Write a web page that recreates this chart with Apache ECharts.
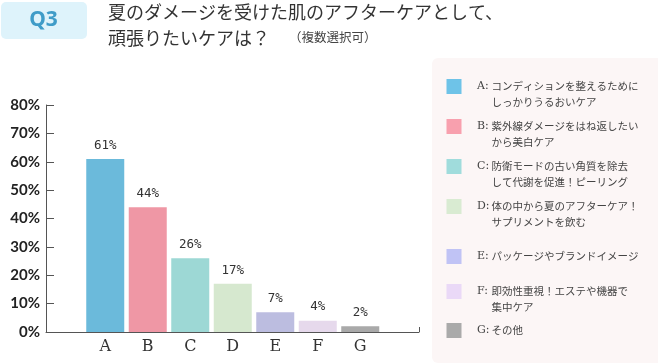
<!DOCTYPE html>
<html><head><meta charset="utf-8">
<script src="https://cdn.jsdelivr.net/npm/echarts@6/dist/echarts.min.js"></script>
<style>html,body{margin:0;padding:0;background:#fff}#c{width:658px;height:364px}</style>
</head><body><div id="c"></div>
<script>
const categories = ['A','B','C','D','E','F','G'];
const values = [61, 44, 26, 17, 7, 4, 2];
const barColors = ['#6bbadb','#ef97a5','#9dd8d5','#d6e8cf','#bcbde0','#e6d9ec','#a9a9a9'];
const legendColors = ['#6ec3e8','#f8a0ae','#a0dcdc','#d9ebd2','#c0c3f5','#ead9f7','#aaaaaa'];
const legendPrefixes = ['A:','B:','C:','D:','E:','F:','G:'];
const legendLines = [
  ['コンディションを整えるために','しっかりうるおいケア'],
  ['紫外線ダメージをはね返したい','から美白ケア'],
  ['防衛モードの古い角質を除去','して代謝を促進！ピーリング'],
  ['体の中から夏のアフターケア！','サプリメントを飲む'],
  ['パッケージやブランドイメージ'],
  ['即効性重視！エステや機器で','集中ケア'],
  ['その他']
];
const legendTops = [79, 119, 159, 199, 249, 284, 323];

const chart = echarts.init(document.getElementById('c'), null, {renderer:'canvas'});
const jp = '"Noto Sans CJK JP", sans-serif';

const graphics = [
  {type:'rect', shape:{x:1,y:2,width:86,height:37,r:5}, style:{fill:'#def3fb'}, z:-1},
  {type:'text', x:43.5, y:20.5, style:{text:'Q3', fill:'#3f9cc8', font:'bold 21px "Noto Sans", sans-serif', textAlign:'center', textVerticalAlign:'middle'}},
  {type:'text', x:108, y:12, style:{text:'夏のダメージを受けた肌のアフターケアとして、', fill:'#333', font:'18px '+jp, textVerticalAlign:'middle'}},
  {type:'text', x:108, y:38, style:{text:'頑張りたいケアは？', fill:'#333', font:'18px '+jp, textVerticalAlign:'middle'}},
  {type:'text', x:289, y:37.5, style:{text:'（複数選択可）', fill:'#444', font:'12.5px '+jp, textVerticalAlign:'middle'}},
  {type:'rect', shape:{x:432,y:58,width:240,height:305,r:6}, style:{fill:'#fcf6f6'}, z:-1}
];
legendTops.forEach((t,i)=>{
  graphics.push({type:'rect', shape:{x:446.5,y:t,width:15,height:15}, style:{fill:legendColors[i]}});
  graphics.push({type:'text', x:477, y:t+7.5, style:{text:legendPrefixes[i], fill:'#444', font:'11px "DejaVu Serif", serif', textVerticalAlign:'middle'}});
  legendLines[i].forEach((ln,j)=>{
    graphics.push({type:'text', x:491.5, y:t+7.5+j*16, style:{text:ln, fill:'#444', font:'10.5px '+jp, textVerticalAlign:'middle'}});
  });
});

chart.setOption({
  animation:false,
  grid:[
    {left:46, right:239, top:105, bottom:32},
    {left:84, right:276.5, top:105, bottom:32}
  ],
  xAxis:[
    {type:'value', gridIndex:0, min:0, max:1, interval:1,
     axisLine:{show:true, lineStyle:{color:'#555', width:1}},
     axisTick:{show:true, inside:true, length:5, lineStyle:{color:'#555'}},
     axisLabel:{show:false}, splitLine:{show:false}},
    {type:'category', gridIndex:1, data:categories,
     axisLine:{show:false}, axisTick:{show:false},
     axisLabel:{color:'#333', fontSize:16, fontFamily:'"DejaVu Serif", serif', margin:7}}
  ],
  yAxis:[
    {type:'value', gridIndex:0, min:0, max:80, interval:10,
     axisLine:{show:true, lineStyle:{color:'#555', width:1}},
     axisTick:{show:true, inside:true, length:8, lineStyle:{color:'#555'}},
     axisLabel:{color:'#222', fontSize:15, fontWeight:'bold', fontFamily:'Lato, sans-serif', margin:6, formatter:'{value}%'},
     splitLine:{show:false}},
    {type:'value', gridIndex:1, min:0, max:80, interval:10, show:false}
  ],
  series:[{
    type:'bar', xAxisIndex:1, yAxisIndex:1, barWidth:38,
    data: values.map((v,i)=>({value:v, itemStyle:{color:barColors[i]}})),
    label:{show:true, position:'top', distance:7, formatter:'{c}%', color:'#333', fontSize:12.5, fontFamily:'"DejaVu Sans Mono", monospace'}
  }],
  graphic: graphics
});
</script></body></html>
